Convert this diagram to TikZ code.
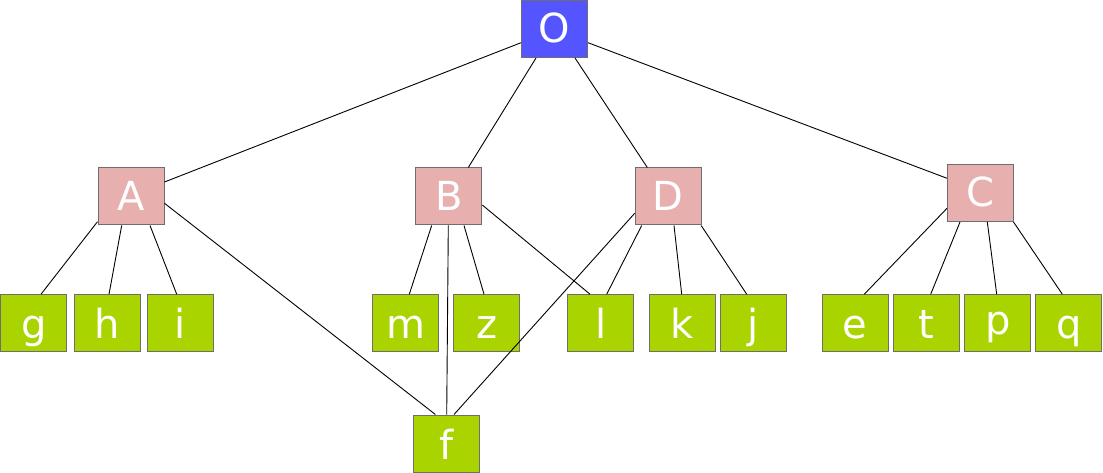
\documentclass[tikz,border=0pt]{standalone}
\usepackage{fontspec}
\setmainfont{DejaVu Sans}
\usetikzlibrary{calc}
\definecolor{rootblue}{HTML}{5555FF}
\definecolor{midpink}{HTML}{E8AFAF}
\definecolor{leafgreen}{HTML}{AAD400}
\definecolor{boxborder}{HTML}{6E6E6E}
\tikzset{
  box/.style={draw=boxborder, line width=1pt, minimum width=66pt, minimum height=57pt,
    inner sep=0pt, text=white, font=\fontsize{40}{40}\selectfont,
    text height=28pt, text depth=0pt},
  rootbox/.style={box, fill=rootblue},
  midbox/.style={box, fill=midpink},
  leafbox/.style={box, fill=leafgreen, text height=31pt},
  edge/.style={draw=black, line width=0.9pt}
}
\begin{document}
\begin{tikzpicture}[x=1pt, y=-1pt]
\useasboundingbox (0,0) rectangle (1103,473);
% nodes
\node[rootbox] (O) at (554.5,29) {O};
\node[midbox] (A) at (131,196.5) {A};
\node[midbox] (B) at (448.8,196.5) {B};
\node[midbox] (D) at (668.2,196.5) {D};
\node[midbox] (C) at (980.5,193) {C};
\node[leafbox] (g) at (33.8,323.2) {g};
\node[leafbox] (h) at (107,323.2) {h};
\node[leafbox] (i) at (180.2,323.2) {i};
\node[leafbox] (m) at (405.8,323.2) {m};
\node[leafbox] (z) at (486.8,323.2) {z};
\node[leafbox] (l) at (600.8,323.2) {l};
\node[leafbox] (k) at (682.5,323.2) {k};
\node[leafbox] (j) at (753.5,323.2) {j};
\node[leafbox] (e) at (855.2,323.2) {e};
\node[leafbox] (t) at (926.5,323.2) {t};
\node[leafbox, text height=23pt] (p) at (997.7,323.2) {p};
\node[leafbox] (q) at (1068.7,323.2) {q};
\node[leafbox] (f) at (446.2,443.5) {f};
% edges
\draw[edge] ($(O.west)+(0,13.7)$) -- ($(A.east)+(0,-14.5)$);
\draw[edge] ($(O.south)+(-18.5,0)$) -- ($(B.north)+(19.5,0)$);
\draw[edge] ($(O.south)+(20.5,0)$) -- ($(D.north)+(-20.9,0)$);
\draw[edge] ($(O.east)+(0,13.7)$) -- ($(C.west)+(0,-14.7)$);
\draw[edge] ($(A.west)+(0,25.2)$) -- ($(g.north)+(7.2,0)$);
\draw[edge] ($(A.south)+(-9.3,0)$) -- ($(h.north)+(2,0)$);
\draw[edge] ($(A.south)+(19,0)$) -- ($(i.north)+(-3.5,0)$);
\draw[edge] ($(A.east)+(0,6.8)$) -- ($(f.north)+(-10.8,0)$);
\draw[edge] ($(B.south)+(-17.1,0)$) -- ($(m.north)+(3.5,0)$);
\draw[edge] ($(B.south)+(-0.5,0)$) -- ($(f.north)+(0.5,0)$);
\draw[edge] ($(B.south)+(15.2,0)$) -- ($(z.north)+(-2.8,0)$);
\draw[edge] ($(B.east)+(0,8.5)$) -- ($(l.north)+(-10.8,0)$);
\draw[edge] ($(D.west)+(0,16.8)$) -- ($(f.north)+(7.8,0)$);
\draw[edge] ($(D.south)+(-26.5,0)$) -- ($(l.north)+(5.9,0)$);
\draw[edge] ($(D.south)+(5.8,0)$) -- ($(k.north)+(-0.8,0)$);
\draw[edge] ($(D.south)+(33,0)$) -- ($(j.north)+(-6.8,0)$);
\draw[edge] ($(C.west)+(0,15.3)$) -- ($(e.north)+(9.1,0)$);
\draw[edge] ($(C.south)+(-20.5,0)$) -- ($(t.north)+(4.2,0)$);
\draw[edge] ($(C.south)+(6.8,0)$) -- ($(p.north)+(-1,0)$);
\draw[edge] ($(C.south)+(33,0)$) -- ($(q.north)+(-6.4,0)$);
\end{tikzpicture}
\end{document}
